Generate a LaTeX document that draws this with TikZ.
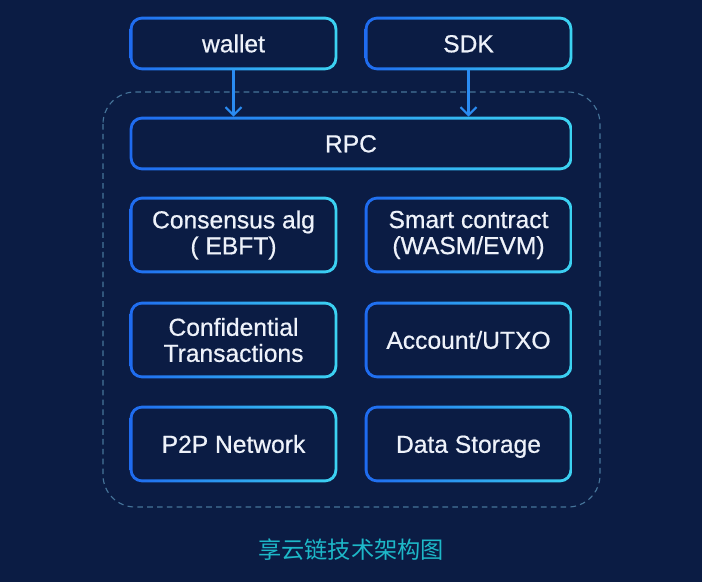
\documentclass[tikz,border=0pt]{standalone}
\usepackage{fontspec}
\setmainfont{Liberation Sans}
\newfontfamily\boxfont{Liberation Sans}[FakeBold=0.6]
\newfontfamily\cjk{Noto Sans CJK SC}
\usetikzlibrary{arrows.meta, positioning, backgrounds}
\definecolor{chainBg}{HTML}{0B1C44}
\definecolor{chainBlue}{HTML}{1F6BF0}
\definecolor{chainCyan}{HTML}{3CD3F2}
\definecolor{arrowBlue}{HTML}{2A8BF2}
\definecolor{dashGray}{HTML}{46749A}
\definecolor{captionTeal}{HTML}{1DB8C8}
\definecolor{textLight}{HTML}{EEF2FA}
\tikzset{
  layerbox/.style={draw=none, align=center, text=textLight, font=\boxfont\fontsize{17.5}{18.5}\selectfont,
    minimum width=5.175cm, minimum height=1.325cm, inner sep=0pt},
  tallbox/.style={layerbox, minimum height=1.9cm},
  oneline/.style={text height=12.5pt, text depth=0pt},
  callarr/.style={-{Straight Barb[length=2mm, width=4mm]}, arrowBlue, line width=1.5pt},
}

\begin{document}
\begin{tikzpicture}[x=0.025cm, y=-0.025cm]
    \useasboundingbox (0,0) rectangle (702,582);
    % clients
    \node[layerbox, oneline] (wallet) at (233.5,43.5) {wallet};
    \node[layerbox, oneline] (sdk) at (468.5,43.5) {SDK};
    % core layers
    \node[layerbox, oneline, minimum width=11.05cm] (rpc) at (351,143.5) {RPC};
    \node[tallbox] (consensus) at (233.5,235) {Consensus alg\\( EBFT)};
    \node[tallbox] (contract) at (468.5,235) {Smart contract\\(WASM/EVM)};
    \node[tallbox] (privacy) at (233.5,340) {Confidential\\Transactions};
    \node[tallbox, oneline] (account) at (468.5,340) {Account/UTXO};
    \node[tallbox, oneline] (p2p) at (233.5,444) {P2P Network};
    \node[tallbox, oneline] (storage) at (468.5,444) {Data Storage};
    \coordinate (frameNW) at (103,92);
    \coordinate (frameSE) at (600,507);
    \node[font=\cjk\fontsize{16.5}{18}\selectfont, text=captionTeal] (caption) at (351,550) {享云链技术架构图};

    \draw[callarr] (wallet.south) -- (wallet.south |- rpc.north);
    \draw[callarr] (sdk.south) -- (sdk.south |- rpc.north);

    \begin{scope}[on background layer]
      \fill[chainBg] (0,0) rectangle (702,582);
      \draw[dashGray, line width=0.8pt, dash pattern=on 4pt off 3pt, rounded corners=0.8cm]
        (frameNW) rectangle (frameSE);
      \foreach \n in {wallet,sdk,rpc,consensus,contract,privacy,account,p2p,storage} {
        \shade[left color=chainBlue, right color=chainCyan, rounded corners=0.3cm]
          (\n.south west) rectangle (\n.north east);
        \fill[chainBg, rounded corners=0.25cm]
          ([shift={(2pt,2pt)}]\n.south west) rectangle ([shift={(-2pt,-2pt)}]\n.north east);
      }
    \end{scope}
\end{tikzpicture}
\end{document}
